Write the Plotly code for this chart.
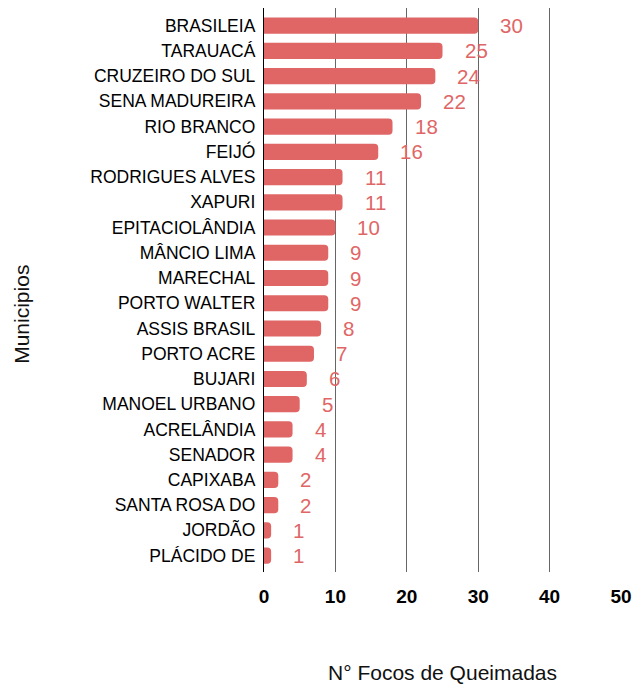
import plotly.graph_objects as go

municipios = ["BRASILEIA", "TARAUACÁ", "CRUZEIRO DO SUL", "SENA MADUREIRA", "RIO BRANCO",
              "FEIJÓ", "RODRIGUES ALVES", "XAPURI", "EPITACIOLÂNDIA", "MÂNCIO LIMA",
              "MARECHAL", "PORTO WALTER", "ASSIS BRASIL", "PORTO ACRE", "BUJARI",
              "MANOEL URBANO", "ACRELÂNDIA", "SENADOR", "CAPIXABA", "SANTA ROSA DO",
              "JORDÃO", "PLÁCIDO DE"]
focos = [30, 25, 24, 22, 18, 16, 11, 11, 10, 9, 9, 9, 8, 7, 6, 5, 4, 4, 2, 2, 1, 1]
x_ticks = [0, 10, 20, 30, 40, 50]

FONT = "Liberation Sans, Arial, sans-serif"
color = "#e06666"
fig = go.Figure()
fig.add_trace(go.Bar(
    x=focos, y=municipios, orientation="h",
    marker=dict(color=color, cornerradius=4, line=dict(width=0)),
    hoverinfo="x+y",
))
for m, v in zip(municipios, focos):
    fig.add_annotation(x=v, y=m, text=str(v), showarrow=False, xanchor="left",
                       xshift=20, font=dict(family=FONT, size=20.5, color=color))

fig.add_annotation(text="N° Focos de Queimadas", xref="paper", yref="paper",
                   x=0.5, y=0, yshift=-100, xanchor="center", yanchor="middle",
                   showarrow=False, font=dict(family=FONT, size=21, color="#111"))
fig.add_annotation(text="Municipios", xref="paper", yref="paper",
                   x=0, xshift=-242, y=0.456, xanchor="center", yanchor="middle",
                   textangle=-90, showarrow=False, font=dict(family=FONT, size=21, color="#111"))

fig.update_layout(
    width=633, height=685,
    margin=dict(l=264, r=12, t=8, b=113),
    paper_bgcolor="white", plot_bgcolor="white",
    bargap=0.36,
    showlegend=False,
    font=dict(family=FONT, color="#000"),
    xaxis=dict(range=[0, 50], tickvals=x_ticks, showgrid=True, gridcolor="#666666",
               gridwidth=1.3, zeroline=False, automargin=False,
               tickfont=dict(family=FONT, size=19, color="#000", weight="bold"),
               ticks="", ticklabelstandoff=11),
    yaxis=dict(categoryorder="array", categoryarray=municipios, autorange=False,
               range=[21.65, -0.7], showgrid=False, showline=True, linecolor="#000", linewidth=1.3,
               automargin=False,
               tickfont=dict(family=FONT, size=17.5, color="#000"), ticks="",
               ticklabelstandoff=4),
)
fig.write_html("out.html", config={"displayModeBar": False},
               post_script="document.body.style.margin='0';document.body.style.overflow='hidden';")
